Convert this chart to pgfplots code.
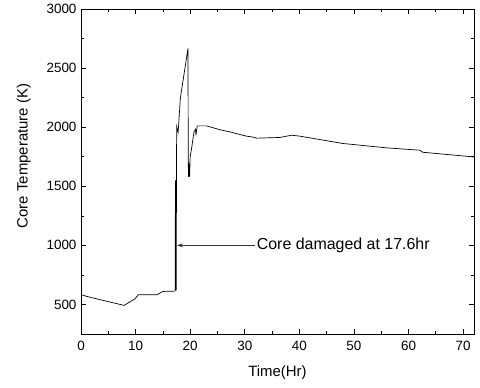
\documentclass[border=0pt]{standalone}
\usepackage{pgfplots}
\pgfplotsset{compat=1.18}
\usepackage{fontspec}
\setmainfont{Liberation Sans}
\usetikzlibrary{arrows.meta}
\begin{document}
\begin{tikzpicture}
\begin{axis}[
  scale only axis,
  width=393bp, height=325bp,
  xmin=0, xmax=72, ymin=250, ymax=3000,
  xtick={0,10,...,70}, ytick={500,1000,...,3000},
  minor xtick={5,15,...,65}, minor ytick={250,750,...,2750},
  tick align=inside,
  major tick length=5bp, minor tick length=3bp,
  tick style={black, line width=0.6pt},
  axis line style={line width=0.8pt},
  xticklabel style={font=\fontsize{13.5}{15}\selectfont, yshift=-4bp},
  yticklabel style={font=\fontsize{13.5}{15}\selectfont, xshift=-1bp},
  /pgf/number format/assume math mode=true,
  /pgf/number format/1000 sep={},
  xlabel={Time(Hr)}, ylabel={Core Temperature (K)},
  label style={font=\fontsize{15}{17}\selectfont},
  xlabel style={yshift=-8bp},
  ylabel style={at={(ticklabel cs:0.548)}, yshift=9bp},
]
\coordinate (bl) at (rel axis cs:0,0);
\coordinate (tr) at (rel axis cs:1,1);
\addplot[black, line width=0.7pt] coordinates {
(0,582) (1.6,562) (4,535) (7.9,492) (9.9,548) (10.5,582) (13.9,582)
(15,610) (17.2,613)
(17.25,620) (17.3,1550) (17.35,620) (17.42,1550) (17.45,620)
(17.5,1800) (17.55,2005) (17.8,1957) (18.2,2245) (19.6,2667)
(19.65,1700) (19.7,1580) (19.75,1700) (19.9,1580) (20.0,1750)
(20.3,1833) (20.7,1960) (21.0,1983) (21.05,1930) (21.3,2011)
(23,2011) (25.5,1978) (27.3,1960) (30.3,1924) (31.3,1918) (32.2,1907)
(36.4,1913) (38.6,1932) (40.1,1924) (48,1862) (56,1825) (62.1,1805)
(62.6,1788) (72,1748)
};
\draw[black!80, line width=0.7pt, -{Stealth[length=6bp,width=4bp]}] (axis cs:31.8,1000) -- (axis cs:17.6,1000);
\node[anchor=west, font=\fontsize{16}{18}\selectfont, inner sep=1bp] at (axis cs:32,1000) {Core damaged at 17.6hr};
\end{axis}
\pgfresetboundingbox
\path[use as bounding box] ([shift={(-81bp,-53bp)}]bl) rectangle ([shift={(6bp,9bp)}]tr);
\end{tikzpicture}
\end{document}
